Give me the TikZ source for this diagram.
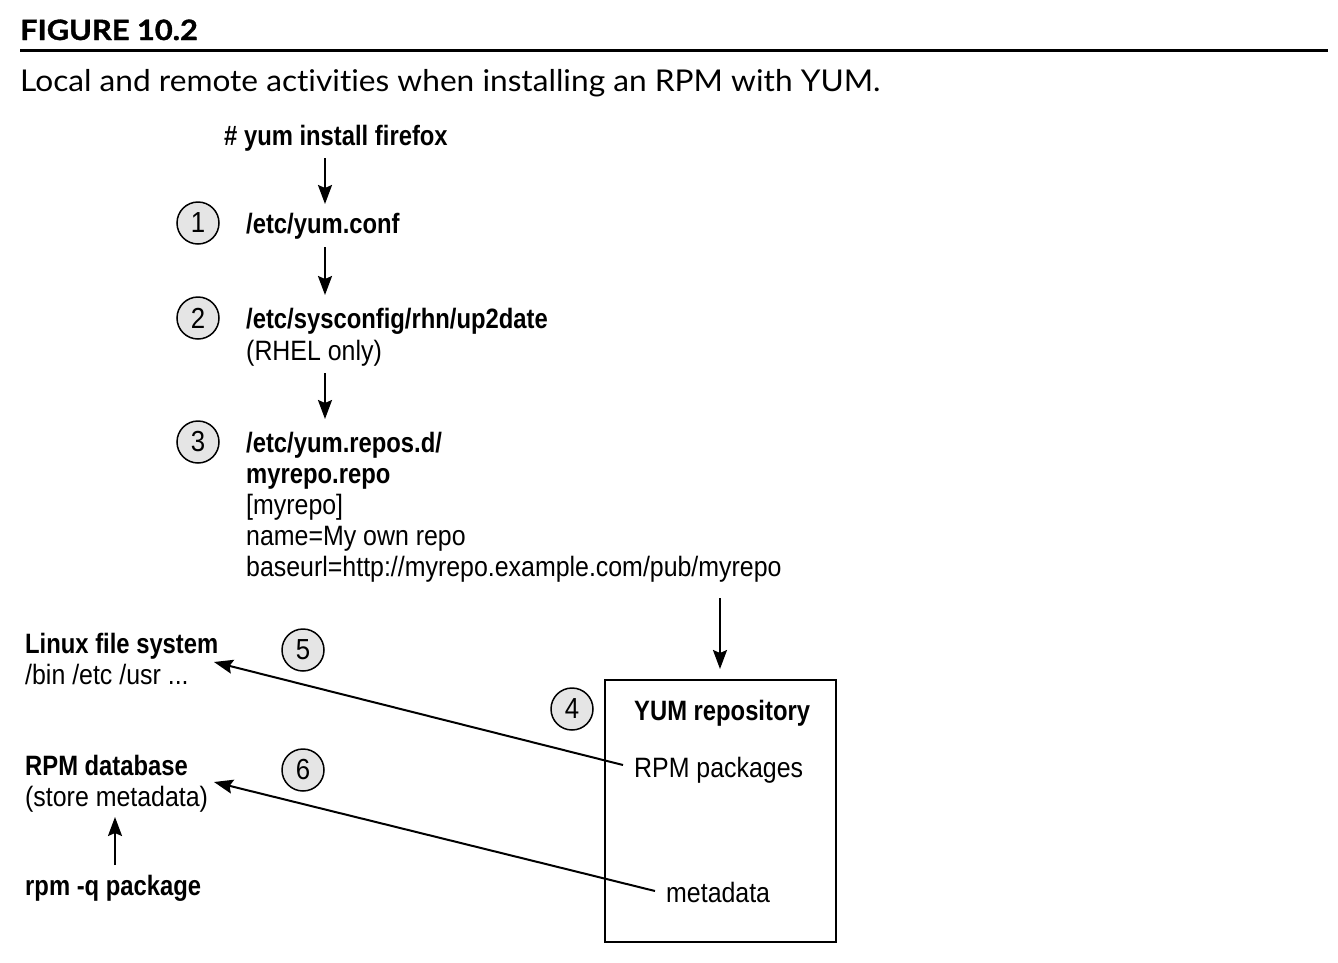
\documentclass[tikz,border=0pt]{standalone}
\usepackage{fontspec}
\usetikzlibrary{arrows.meta}
\newfontfamily\condfont[FakeStretch=0.89]{Liberation Sans}
\newfontfamily\bcondfont[FakeStretch=0.85]{Liberation Sans Bold}
\newfontfamily\capfont[FakeStretch=1.055,Ligatures=NoCommon]{Lato}
\newfontfamily\titlefont[FakeStretch=1.1,FakeBold=1.2]{Lato Bold}
\tikzset{
  txt/.style={anchor=base west, inner sep=0pt, font=\condfont\fontsize{28}{31}\selectfont},
  btxt/.style={txt, font=\bcondfont\fontsize{28}{31}\selectfont},
  num/.style={circle, draw, line width=1.5pt, fill=black!10, minimum size=42pt, inner sep=0pt, font=\condfont\fontsize{29}{31}\selectfont},
  arr/.style={line width=2pt, -{Stealth[length=19pt,width=14pt,inset=3pt]}},
  conn/.style={line width=2pt, {Stealth[length=19pt,width=14pt,inset=3pt]}-},
}
\begin{document}
\begin{tikzpicture}[x=1pt,y=-1pt]
\useasboundingbox (0,0) rectangle (1338,962);
% title
\node[anchor=base west, inner sep=0pt, font=\titlefont\fontsize{28}{30}\selectfont] (fig) at (20,40) {FIGURE 10.2};
\draw[line width=3pt] (20,50) coordinate (rl) -- (1328,50) coordinate (rr);
\node[anchor=base west, inner sep=0pt, font=\capfont\fontsize{30}{31}\selectfont] (cap) at (20,91) {Local and remote activities when installing an RPM with YUM.};
% command chain
\node[btxt] (cmd) at (224,145) {\# yum install firefox};
\node[num] (n1) at (198,223) {1};
\node[btxt] (yc) at (246,233) {/etc/yum.conf};
\node[num] (n2) at (198,318) {2};
\node[btxt] (up) at (246,328) {/etc/sysconfig/rhn/up2date};
\node[txt] (rhel) at (246,360) {(RHEL only)};
\node[num] (n3) at (198,442) {3};
\node[btxt] (rd) at (246,452) {/etc/yum.repos.d/};
\node[btxt] (rr1) at (246,483) {myrepo.repo};
\node[txt] (rr2) at (246,514) {[myrepo]};
\node[txt] (rr3) at (246,545) {name=My own repo};
\node[txt] (rr4) at (246,576) {baseurl=http://myrepo.example.com/pub/myrepo};
\coordinate (a1s) at (325,158); \coordinate (a1e) at (325,204);
\coordinate (a2s) at (325,247); \coordinate (a2e) at (325,295);
\coordinate (a3s) at (325,373); \coordinate (a3e) at (325,419);
\draw[arr] (a1s) -- (a1e);
\draw[arr] (a2s) -- (a2e);
\draw[arr] (a3s) -- (a3e);
% repository
\node[draw, line width=1.5pt, minimum width=231pt, minimum height=262pt, inner sep=0pt] (box) at (720.5,811) {};
\coordinate (a4s) at (720,598);
\coordinate (a4e) at (720,669);
\draw[arr] (a4s) -- (a4e);
\node[num] (n4) at (572,709) {4};
\node[btxt] (yr) at (634,720) {YUM repository};
\node[txt] (pk) at (634,777) {RPM packages};
\node[txt] (md) at (666,902) {metadata};
% local
\node[btxt] (lfs) at (25,653) {Linux file system};
\node[txt] (bin) at (25,684) {/bin /etc /usr ...};
\node[btxt] (db) at (25,775) {RPM database};
\node[txt] (sm) at (25,806) {(store metadata)};
\node[btxt] (q) at (25,895) {rpm -q package};
\node[num] (n5) at (303,650) {5};
\node[num] (n6) at (303,770) {6};
\coordinate (t5) at (214,662);
\coordinate (t6) at (214,782);
\coordinate (s5) at (623,765);
\coordinate (s6) at (655,891);
\draw[conn] (t5) -- (s5);
\draw[conn] (t6) -- (s6);
\coordinate (qs) at (115,865);
\coordinate (qe) at (115,817);
\draw[arr] (qs) -- (qe);
\end{tikzpicture}
\end{document}
